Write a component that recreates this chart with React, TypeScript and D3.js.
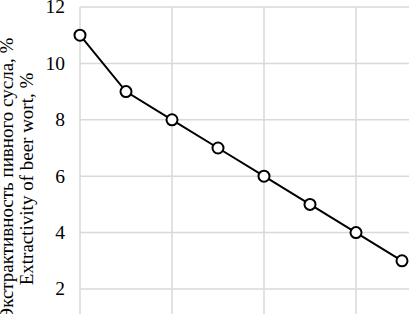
import * as d3 from "d3";

const xValues = [0, 1, 2, 3, 4, 5, 6, 7];
const extract = [11, 9, 8, 7, 6, 5, 4, 3];
const yTicks = [2, 4, 6, 8, 10, 12];
const xGrid = [0, 2, 4, 6];
const titleRu = "Экстрактивность пивного сусла, %";
const titleEn = "Extractivity of beer wort, %";

const serif = { fontFamily: `"Liberation Serif"` };

export default function App() {
  const width = 409;
  const height = 314;
  const x = d3.scaleLinear().domain([0, 7]).range([80, 402]);
  const y = d3.scaleLinear().domain([2, 12]).range([289, 7]);
  const line = d3
    .line<number>()
    .x((_, i) => x(xValues[i]))
    .y((d) => y(d));

  return (
    <svg width={width} height={height} style={{ position: "absolute", left: 0, top: 0, background: "#fff" }}>
      {/* grid */}
      {yTicks.map((t) => (
        <line key={"h" + t} x1={80} x2={width} y1={y(t)} y2={y(t)} stroke="#d9d9d9" strokeWidth={1.5} />
      ))}
      {xGrid.map((t) => (
        <line key={"v" + t} x1={x(t)} x2={x(t)} y1={y(12)} y2={height} stroke="#d9d9d9" strokeWidth={1.5} />
      ))}
      {/* tick labels */}
      {yTicks.map((t) => (
        <text key={"t" + t} x={65} y={y(t)} dy="0.33em" textAnchor="end" fontSize={19.5} fill="#000" style={serif}>
          {t}
        </text>
      ))}
      {/* axis title */}
      <g transform="translate(0,179) rotate(-90)">
        <text x={0} y={13} textAnchor="middle" fontSize={19} fill="#000" style={serif}>
          {titleRu}
        </text>
        <text x={0} y={33} textAnchor="middle" fontSize={19} fill="#000" style={serif}>
          {titleEn}
        </text>
      </g>
      <path d={line(extract) ?? ""} fill="none" stroke="#000" strokeWidth={2} />
      {extract.map((v, i) => (
        <circle key={i} cx={x(xValues[i])} cy={y(v)} r={5.5} fill="#fff" stroke="#000" strokeWidth={2} />
      ))}
    </svg>
  );
}
